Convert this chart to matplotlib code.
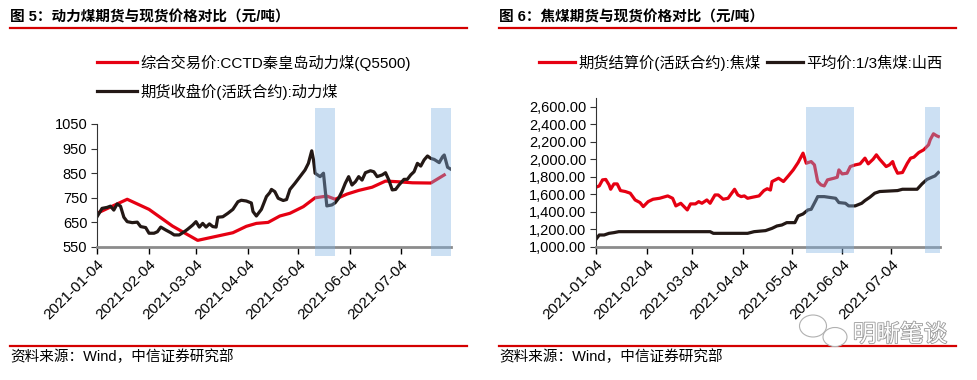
import numpy as np
import pandas as pd
import matplotlib
matplotlib.use('Agg')
import matplotlib.pyplot as plt
import matplotlib.dates as mdates
import matplotlib.patheffects as pe
from matplotlib.patches import Ellipse
from matplotlib.ticker import FuncFormatter

plt.rcParams['font.family'] = ['Liberation Sans', 'Noto Sans CJK SC', 'DejaVu Sans']

# ---- data (days counted from 2021-01-04) ----
start = pd.Timestamp('2021-01-04')

# 图5: thermal coal
spot_days = [0, 18, 31, 45, 60, 81, 89, 95, 102, 109, 115, 123, 130, 137, 142, 149,
             156, 164, 172, 180, 188, 199, 207]
spot_price = [687, 744, 703, 635, 577, 608, 634, 646, 650, 676, 687, 714, 750, 757, 744, 765,
              780, 793, 818, 815, 811, 810, 843]

fut_days = [0, 3, 6, 8, 10, 12, 14, 16, 18, 21, 24, 26, 29, 31, 34, 36, 38, 41, 44, 46,
            49, 52, 54, 57, 59, 61, 63, 65, 67, 69, 71, 72, 75, 78, 81, 84, 86, 89, 92, 93,
            95, 98, 101, 103, 104, 106, 108, 111, 113, 115, 118, 121, 124, 126, 128, 129, 130,
            133, 135, 137, 140, 142, 144, 146, 148, 150, 152, 154, 156, 158, 160, 163, 165,
            167, 170, 172, 174, 176, 178, 180, 183, 185, 187, 189, 191, 193, 195, 197, 199,
            201, 204, 206, 207, 209, 211]
fut_price = [673, 707, 711, 716, 700, 725, 716, 671, 653, 649, 651, 633, 629, 606, 606, 612,
             631, 619, 608, 599, 599, 612, 622, 639, 653, 631, 646, 631, 644, 633, 631, 671,
             673, 687, 703, 734, 740, 737, 729, 694, 676, 703, 755, 771, 784, 775, 748, 739,
             743, 784, 809, 836, 863, 890, 941, 906, 850, 836, 850, 717, 721, 730, 748, 775,
             809, 836, 802, 815, 836, 822, 852, 860, 856, 836, 843, 852, 822, 782, 784, 802,
             825, 825, 843, 856, 890, 879, 904, 920, 910, 906, 893, 917, 924, 874, 866]
shade_left = [(130, 142), (199, 211)]

# 图6: coking coal
cfut_days = [0, 2, 4, 6, 8, 9, 11, 13, 15, 18, 21, 24, 27, 29, 32, 35, 39, 44, 47, 49,
             52, 54, 56, 58, 61, 63, 65, 68, 70, 73, 75, 78, 81, 85, 87, 89, 91, 93, 96, 100,
             103, 105, 107, 108, 112, 115, 118, 121, 124, 127, 129, 132, 134, 136, 138, 140,
             142, 146, 148, 149, 151, 154, 156, 159, 162, 165, 167, 170, 172, 174, 178, 180,
             182, 183, 185, 188, 191, 193, 195, 198, 201, 204, 205, 207, 209, 210]
cfut_price = [1682, 1697, 1766, 1771, 1709, 1659, 1720, 1720, 1644, 1633, 1614, 1537, 1507,
              1461, 1518, 1545, 1556, 1583, 1556, 1469, 1499, 1461, 1423, 1492, 1492, 1518,
              1499, 1537, 1499, 1594, 1594, 1545, 1556, 1659, 1594, 1575, 1583, 1556, 1568,
              1583, 1644, 1665, 1650, 1747, 1785, 1747, 1812, 1880, 1964, 2071, 1956, 1975,
              1937, 1747, 1709, 1697, 1766, 1785, 1796, 1880, 1834, 1842, 1918, 1937, 1949,
              2014, 1949, 2002, 2052, 2002, 1918, 1937, 1975, 1918, 1842, 1850, 1956, 2014,
              2025, 2078, 2109, 2166, 2223, 2292, 2269, 2261]
cspot_days = [0, 2, 5, 8, 11, 14, 70, 72, 93, 97, 104, 108, 111, 114, 117, 122, 124, 127,
              130, 132, 135, 136, 140, 147, 149, 153, 155, 159, 163, 165, 168, 171, 174, 185,
              188, 197, 200, 203, 206, 208, 210]
cspot_price = [1088, 1137, 1137, 1156, 1164, 1175, 1175, 1156, 1156, 1175, 1187, 1213, 1240,
               1251, 1278, 1278, 1354, 1377, 1423, 1430, 1537, 1575, 1575, 1556, 1507, 1499,
               1469, 1469, 1499, 1530, 1568, 1614, 1633, 1644, 1659, 1659, 1720, 1771, 1796,
               1812, 1850]
shade_right = [(129, 158), (202, 211)]

tick_dates = ['2021-01-04', '2021-02-04', '2021-03-04', '2021-04-04',
              '2021-05-04', '2021-06-04', '2021-07-04']


def to_dates(days):
    return start + pd.to_timedelta(days, unit='D')


RED = '#e60012'
BLACK = '#231815'
SHADE = (0.5, 0.70, 0.89)

fig = plt.figure(figsize=(9.78, 3.8), dpi=100)


def style_axis(ax):
    ax.spines['top'].set_visible(False)
    ax.spines['right'].set_visible(False)
    ax.spines['left'].set_color('#333333')
    ax.spines['left'].set_linewidth(0.8)
    ax.spines['bottom'].set_color('#8c8c8c')
    ax.spines['bottom'].set_linewidth(2)
    ax.set_xlim(start, start + pd.Timedelta(days=211))
    ax.set_xticks(pd.to_datetime(tick_dates))
    ax.xaxis.set_major_formatter(mdates.DateFormatter('%Y-%m-%d'))
    ax.tick_params(axis='x', length=5, width=1, color='black', labelsize=11, pad=2)
    ax.tick_params(axis='y', length=4, width=0.8, color='#333333', labelsize=10.5, pad=3)
    for lab in ax.get_xticklabels():
        lab.set_rotation(45)
        lab.set_ha('right')
        lab.set_rotation_mode('anchor')


# ---- left chart ----
ax1 = fig.add_axes([0.0992, 0.35, 0.3619, 0.3237])
ax1.plot(to_dates(spot_days), spot_price, color=RED, lw=2.3,
         label='综合交易价:CCTD秦皇岛动力煤(Q5500)')
ax1.plot(to_dates(fut_days), fut_price, color=BLACK, lw=2.3,
         label='期货收盘价(活跃合约):动力煤')
ax1.set_ylim(550, 1050)
ax1.set_yticks([550, 650, 750, 850, 950, 1050])
style_axis(ax1)
for a, b in shade_left:
    ax1.axvspan(start + pd.Timedelta(days=a), start + pd.Timedelta(days=b),
                ymin=-0.074, ymax=1.13, color=SHADE, alpha=0.4, lw=0,
                clip_on=False, zorder=5)
ax1.legend(loc='upper left', bbox_to_anchor=(0.099, 0.857), bbox_transform=fig.transFigure,
           frameon=False, fontsize=11, handlelength=2.6, handletextpad=0.25,
           borderpad=0, borderaxespad=0, labelspacing=0.85)

# ---- right chart ----
ax2 = fig.add_axes([0.6094, 0.35, 0.3517, 0.392])
ax2.plot(to_dates(cfut_days), cfut_price, color=RED, lw=2.3,
         label='期货结算价(活跃合约):焦煤')
ax2.plot(to_dates(cspot_days), cspot_price, color=BLACK, lw=2.3,
         label='平均价:1/3焦煤:山西')
ax2.set_ylim(1000, 2700)
ax2.set_yticks(np.arange(1000, 2601, 200))
ax2.yaxis.set_major_formatter(FuncFormatter(lambda v, p: '{:,.2f}'.format(v)))
style_axis(ax2)
for a, b in shade_right:
    ax2.axvspan(start + pd.Timedelta(days=a), start + pd.Timedelta(days=b),
                ymin=-0.04, ymax=0.941, color=SHADE, alpha=0.4, lw=0,
                clip_on=False, zorder=5)
ax2.legend(loc='upper left', bbox_to_anchor=(0.551, 0.857), bbox_transform=fig.transFigure,
           frameon=False, fontsize=11, ncol=2, handlelength=2.35, handletextpad=0.25,
           columnspacing=0.4, borderpad=0, borderaxespad=0)

# ---- titles, rules, sources ----
for x0, x1, title in [(0.0102, 0.4775, '图 5：动力煤期货与现货价格对比（元/吨）'),
                      (0.5102, 0.9775, '图 6：焦煤期货与现货价格对比（元/吨）')]:
    fig.text(x0, 0.955, title, fontsize=10.5, fontweight='bold', va='center', ha='left')
    fig.add_artist(plt.Line2D([x0, x1], [0.926, 0.926], color='#d40000', lw=1.6))
    fig.add_artist(plt.Line2D([x0, x1], [0.0895, 0.0895], color='#d40000', lw=1.6))
    fig.text(x0, 0.062, '资料来源：Wind，中信证券研究部', fontsize=10.5, va='center', ha='left')

# watermark
for cx, cy, w, h in [(813, 326, 27, 22), (835, 337, 24, 19)]:
    fig.add_artist(Ellipse((cx / 978, 1 - cy / 380), w / 978, h / 380,
                           facecolor='white', edgecolor='#b0b0b0', lw=0.8, zorder=10))
fig.text(0.872, 0.118, '明晰笔谈', fontsize=17, color='white', va='center', ha='left',
         zorder=11, path_effects=[pe.withStroke(linewidth=1.2, foreground='#999999')])

fig.savefig('out.png', dpi=100)
